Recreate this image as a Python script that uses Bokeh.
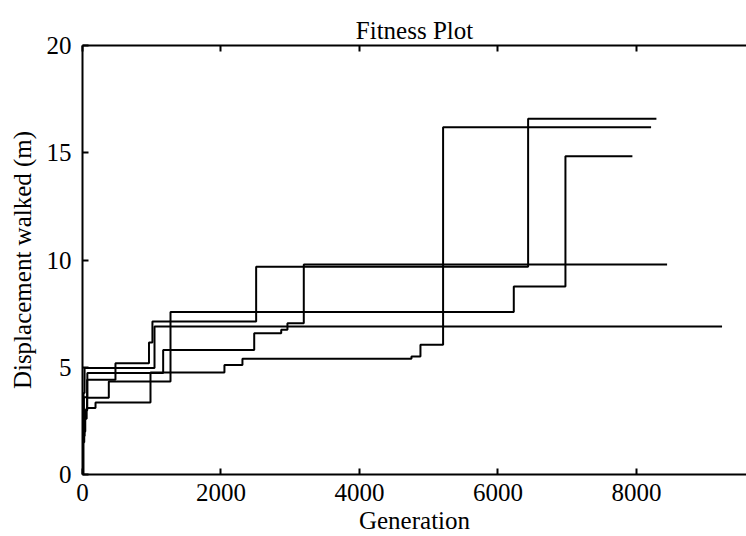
from bokeh.plotting import figure
from bokeh.models import LinearAxis, FixedTicker, Range1d, Title
from bokeh.embed import file_html
from bokeh.resources import INLINE

# Data (generation, best displacement) – step functions
gen_a = [0, 10, 30, 67, 476, 960, 1010, 2508, 6436, 8289]
fit_a = [0, 1.8, 3.0, 4.42, 5.19, 6.15, 7.13, 9.69, 16.59, 16.59]

gen_b = [0, 8, 25, 60, 188, 982, 2050, 2310, 4751, 4881, 5208, 8212]
fit_b = [0, 1.5, 2.6, 3.1, 3.36, 4.75, 5.1, 5.4, 5.5, 6.05, 16.19, 16.19]

gen_c = [0, 12, 40, 67, 380, 1271, 6229, 6975, 7942]
fit_c = [0, 2.0, 3.0, 3.58, 4.34, 7.57, 8.76, 14.84, 14.84]

gen_d = [0, 6, 20, 70, 1165, 2480, 2870, 2960, 3196, 8443]
fit_d = [0, 2.2, 3.6, 4.73, 5.81, 6.59, 6.75, 7.05, 9.79, 9.79]

gen_e = [0, 5, 15, 30, 1040, 9237]
fit_e = [0, 2.6, 3.8, 4.96, 6.9, 6.9]

series = [(gen_a, fit_a), (gen_b, fit_b), (gen_c, fit_c), (gen_d, fit_d), (gen_e, fit_e)]

x_ticks = [0, 2000, 4000, 6000, 8000]
y_ticks = [0, 5, 10, 15, 20]

FONT = "Liberation Serif"

p = figure(width=746, height=536, output_backend="svg", toolbar_location=None,
           x_range=Range1d(0, 9590), y_range=Range1d(0, 20),
           min_border_left=82, min_border_right=0, min_border_top=45,
           min_border_bottom=61, background_fill_color="white",
           border_fill_color="white", title=None)

p.outline_line_color = None
p.grid.visible = False

for g, f in series:
    p.step(g, f, mode="after", line_color="black", line_width=2)

for ax in p.xaxis:
    ax.ticker = FixedTicker(ticks=x_ticks)
    ax.axis_label = "Generation"
for ax in p.yaxis:
    ax.ticker = FixedTicker(ticks=y_ticks)
    ax.axis_label = "Displacement walked (m)"

for ax in list(p.xaxis) + list(p.yaxis):
    ax.axis_line_color = "black"
    ax.axis_line_width = 2
    ax.major_tick_in = 6
    ax.major_tick_out = 0
    ax.major_tick_line_color = "black"
    ax.major_tick_line_width = 2
    ax.minor_tick_line_color = None
    ax.major_label_text_font = FONT
    ax.major_label_text_font_size = "25px"
    ax.major_label_text_color = "black"
    ax.axis_label_text_font = FONT
    ax.axis_label_text_font_size = "25px"
    ax.axis_label_text_font_style = "normal"
    ax.axis_label_text_color = "black"

p.xaxis.major_label_standoff = 9
p.xaxis.axis_label_standoff = 3
p.yaxis.major_label_standoff = 11
p.yaxis.axis_label_standoff = 8

top = LinearAxis(ticker=FixedTicker(ticks=x_ticks), axis_line_color="black",
                 axis_line_width=2, major_tick_in=6, major_tick_out=0,
                 major_tick_line_color="black", major_tick_line_width=2,
                 minor_tick_line_color=None,
                 major_label_overrides={t: "" for t in x_ticks},
                 major_label_text_font_size="2px",
                 major_label_standoff=0)
p.add_layout(top, "above")

title = Title(text="Fitness Plot", align="center", text_font=FONT,
              text_font_size="25px", text_font_style="normal",
              text_color="black", standoff=4)
p.add_layout(title, "above")

open("out.html", "w").write(file_html(p, INLINE))
